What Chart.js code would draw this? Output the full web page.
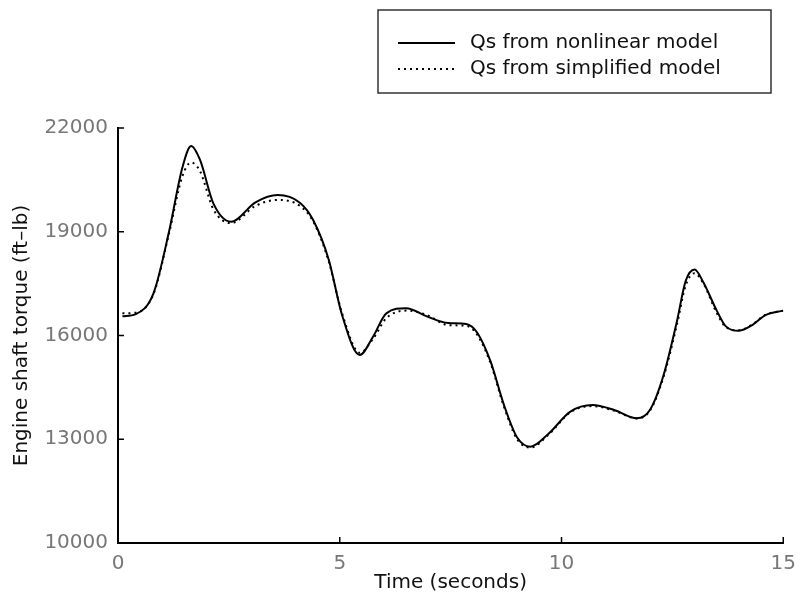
<!DOCTYPE html>
<html>
<head>
<meta charset="utf-8">
<script src="https://cdn.jsdelivr.net/npm/chart.js@4/dist/chart.umd.min.js"></script>
<style>
  html, body { margin: 0; padding: 0; background: #fff; }
  #wrap { width: 805px; height: 603px; }
</style>
</head>
<body>
<div id="wrap"><canvas id="torqueChart"></canvas></div>
<script>
// time samples (s) shared by both traces
const timeSec = [0.1, 0.4, 0.8, 1.15, 1.45, 1.65, 1.85, 2.15, 2.55, 3.1, 3.6, 4.1, 4.4, 4.75,
  5.05, 5.45, 5.75, 6.05, 6.5, 6.95, 7.45, 7.85, 8.1, 8.4, 8.7, 9.0, 9.3, 9.7, 10.2, 10.7,
  11.2, 11.7, 12.0, 12.3, 12.6, 12.8, 13.0, 13.2, 13.5, 13.7, 14.0, 14.3, 14.6, 15.0];

// engine shaft torque, ft-lb
const qsNonlinear = [16560, 16620, 17220, 19000, 20850, 21480, 21075, 19820, 19290, 19850,
  20060, 19840, 19340, 18200, 16600, 15435, 15965, 16640, 16790, 16560, 16360, 16330, 16080,
  15250, 14000, 13050, 12785, 13150, 13800, 13990, 13840, 13605, 13860, 14850, 16400, 17580,
  17910, 17530, 16720, 16270, 16140, 16300, 16590, 16720];

const qsSimplified = [16640, 16660, 17200, 18950, 20600, 21000, 20750, 19650, 19250, 19750,
  19920, 19750, 19300, 18150, 16650, 15500, 15900, 16500, 16720, 16600, 16300, 16280, 16020,
  15200, 13950, 13000, 12760, 13120, 13780, 13960, 13820, 13600, 13840, 14800, 16300, 17450,
  17800, 17500, 16650, 16250, 16150, 16320, 16600, 16720];

const xTicks = [0, 5, 10, 15];
const yTicks = [10000, 13000, 16000, 19000, 22000];
const seriesNames = ["Qs from nonlinear model", "Qs from simplified model"];

const FONT = "'DejaVu Sans', sans-serif";
const toPoints = (vals) => vals.map((v, i) => ({ x: timeSec[i], y: v }));

// small tick marks pointing into the plot, plus the boxed legend at top right
const decorations = {
  id: "decorations",
  afterDatasetsDraw(chart) {
    const { ctx, chartArea, scales } = chart;
    ctx.save();
    ctx.strokeStyle = "#000";
    ctx.lineWidth = 1.5;
    yTicks.forEach((v) => {
      const py = scales.y.getPixelForValue(v);
      ctx.beginPath();
      ctx.moveTo(chartArea.left, py);
      ctx.lineTo(chartArea.left + 6, py);
      ctx.stroke();
    });
    xTicks.forEach((v) => {
      const px = scales.x.getPixelForValue(v);
      ctx.beginPath();
      ctx.moveTo(px, chartArea.bottom);
      ctx.lineTo(px, chartArea.bottom - 6);
      ctx.stroke();
    });

    // legend
    ctx.strokeStyle = "#333";
    ctx.lineWidth = 1.5;
    ctx.strokeRect(378, 10, 393, 83);
    const rows = [43, 69];
    ctx.lineWidth = 2;
    ctx.strokeStyle = "#000";
    ctx.beginPath();
    ctx.moveTo(398, rows[0]);
    ctx.lineTo(455, rows[0]);
    ctx.stroke();
    ctx.setLineDash([2, 4]);
    ctx.beginPath();
    ctx.moveTo(398, rows[1]);
    ctx.lineTo(455, rows[1]);
    ctx.stroke();
    ctx.setLineDash([]);
    ctx.fillStyle = "#111";
    ctx.font = "20px " + FONT;
    ctx.textBaseline = "middle";
    ctx.textAlign = "left";
    seriesNames.forEach((name, i) => ctx.fillText(name, 470, rows[i]));
    ctx.restore();
  }
};

new Chart(document.getElementById("torqueChart"), {
  type: "line",
  data: {
    datasets: [
      {
        label: seriesNames[1],
        data: toPoints(qsSimplified),
        borderColor: "#000",
        borderWidth: 2,
        borderDash: [2, 4],
        pointRadius: 0,
        cubicInterpolationMode: "monotone",
        order: 2
      },
      {
        label: seriesNames[0],
        data: toPoints(qsNonlinear),
        borderColor: "#000",
        borderWidth: 2,
        pointRadius: 0,
        cubicInterpolationMode: "monotone",
        order: 1
      }
    ]
  },
  options: {
    responsive: true,
    maintainAspectRatio: false,
    animation: false,
    layout: { padding: { top: 128, right: 20, left: 0, bottom: 0 } },
    plugins: {
      legend: { display: false },
      tooltip: { enabled: false }
    },
    scales: {
      x: {
        type: "linear",
        min: 0,
        max: 15,
        afterBuildTicks: (scale) => { scale.ticks = xTicks.map((v) => ({ value: v })); },
        afterFit: (scale) => { scale.height = 60; },
        grid: { display: false, drawTicks: false },
        border: { display: true, color: "#000", width: 2 },
        ticks: { padding: 9, color: "#777", font: { family: FONT, size: 20 } },
        title: {
          display: true,
          text: "Time (seconds)",
          color: "#111",
          font: { family: FONT, size: 20 },
          padding: { top: 0, bottom: 8 }
        }
      },
      y: {
        min: 10000,
        max: 22000,
        afterBuildTicks: (scale) => { scale.ticks = yTicks.map((v) => ({ value: v })); },
        afterFit: (scale) => { scale.width = 118; },
        grid: { display: false, drawTicks: false },
        border: { display: true, color: "#000", width: 2 },
        ticks: {
          padding: 10,
          color: "#777",
          font: { family: FONT, size: 20 },
          callback: (v) => String(v)
        },
        title: {
          display: true,
          text: "Engine shaft torque (ft–lb)",
          color: "#111",
          font: { family: FONT, size: 20 },
          padding: { top: 10, bottom: 0 }
        }
      }
    }
  },
  plugins: [decorations]
});
</script>
</body>
</html>
